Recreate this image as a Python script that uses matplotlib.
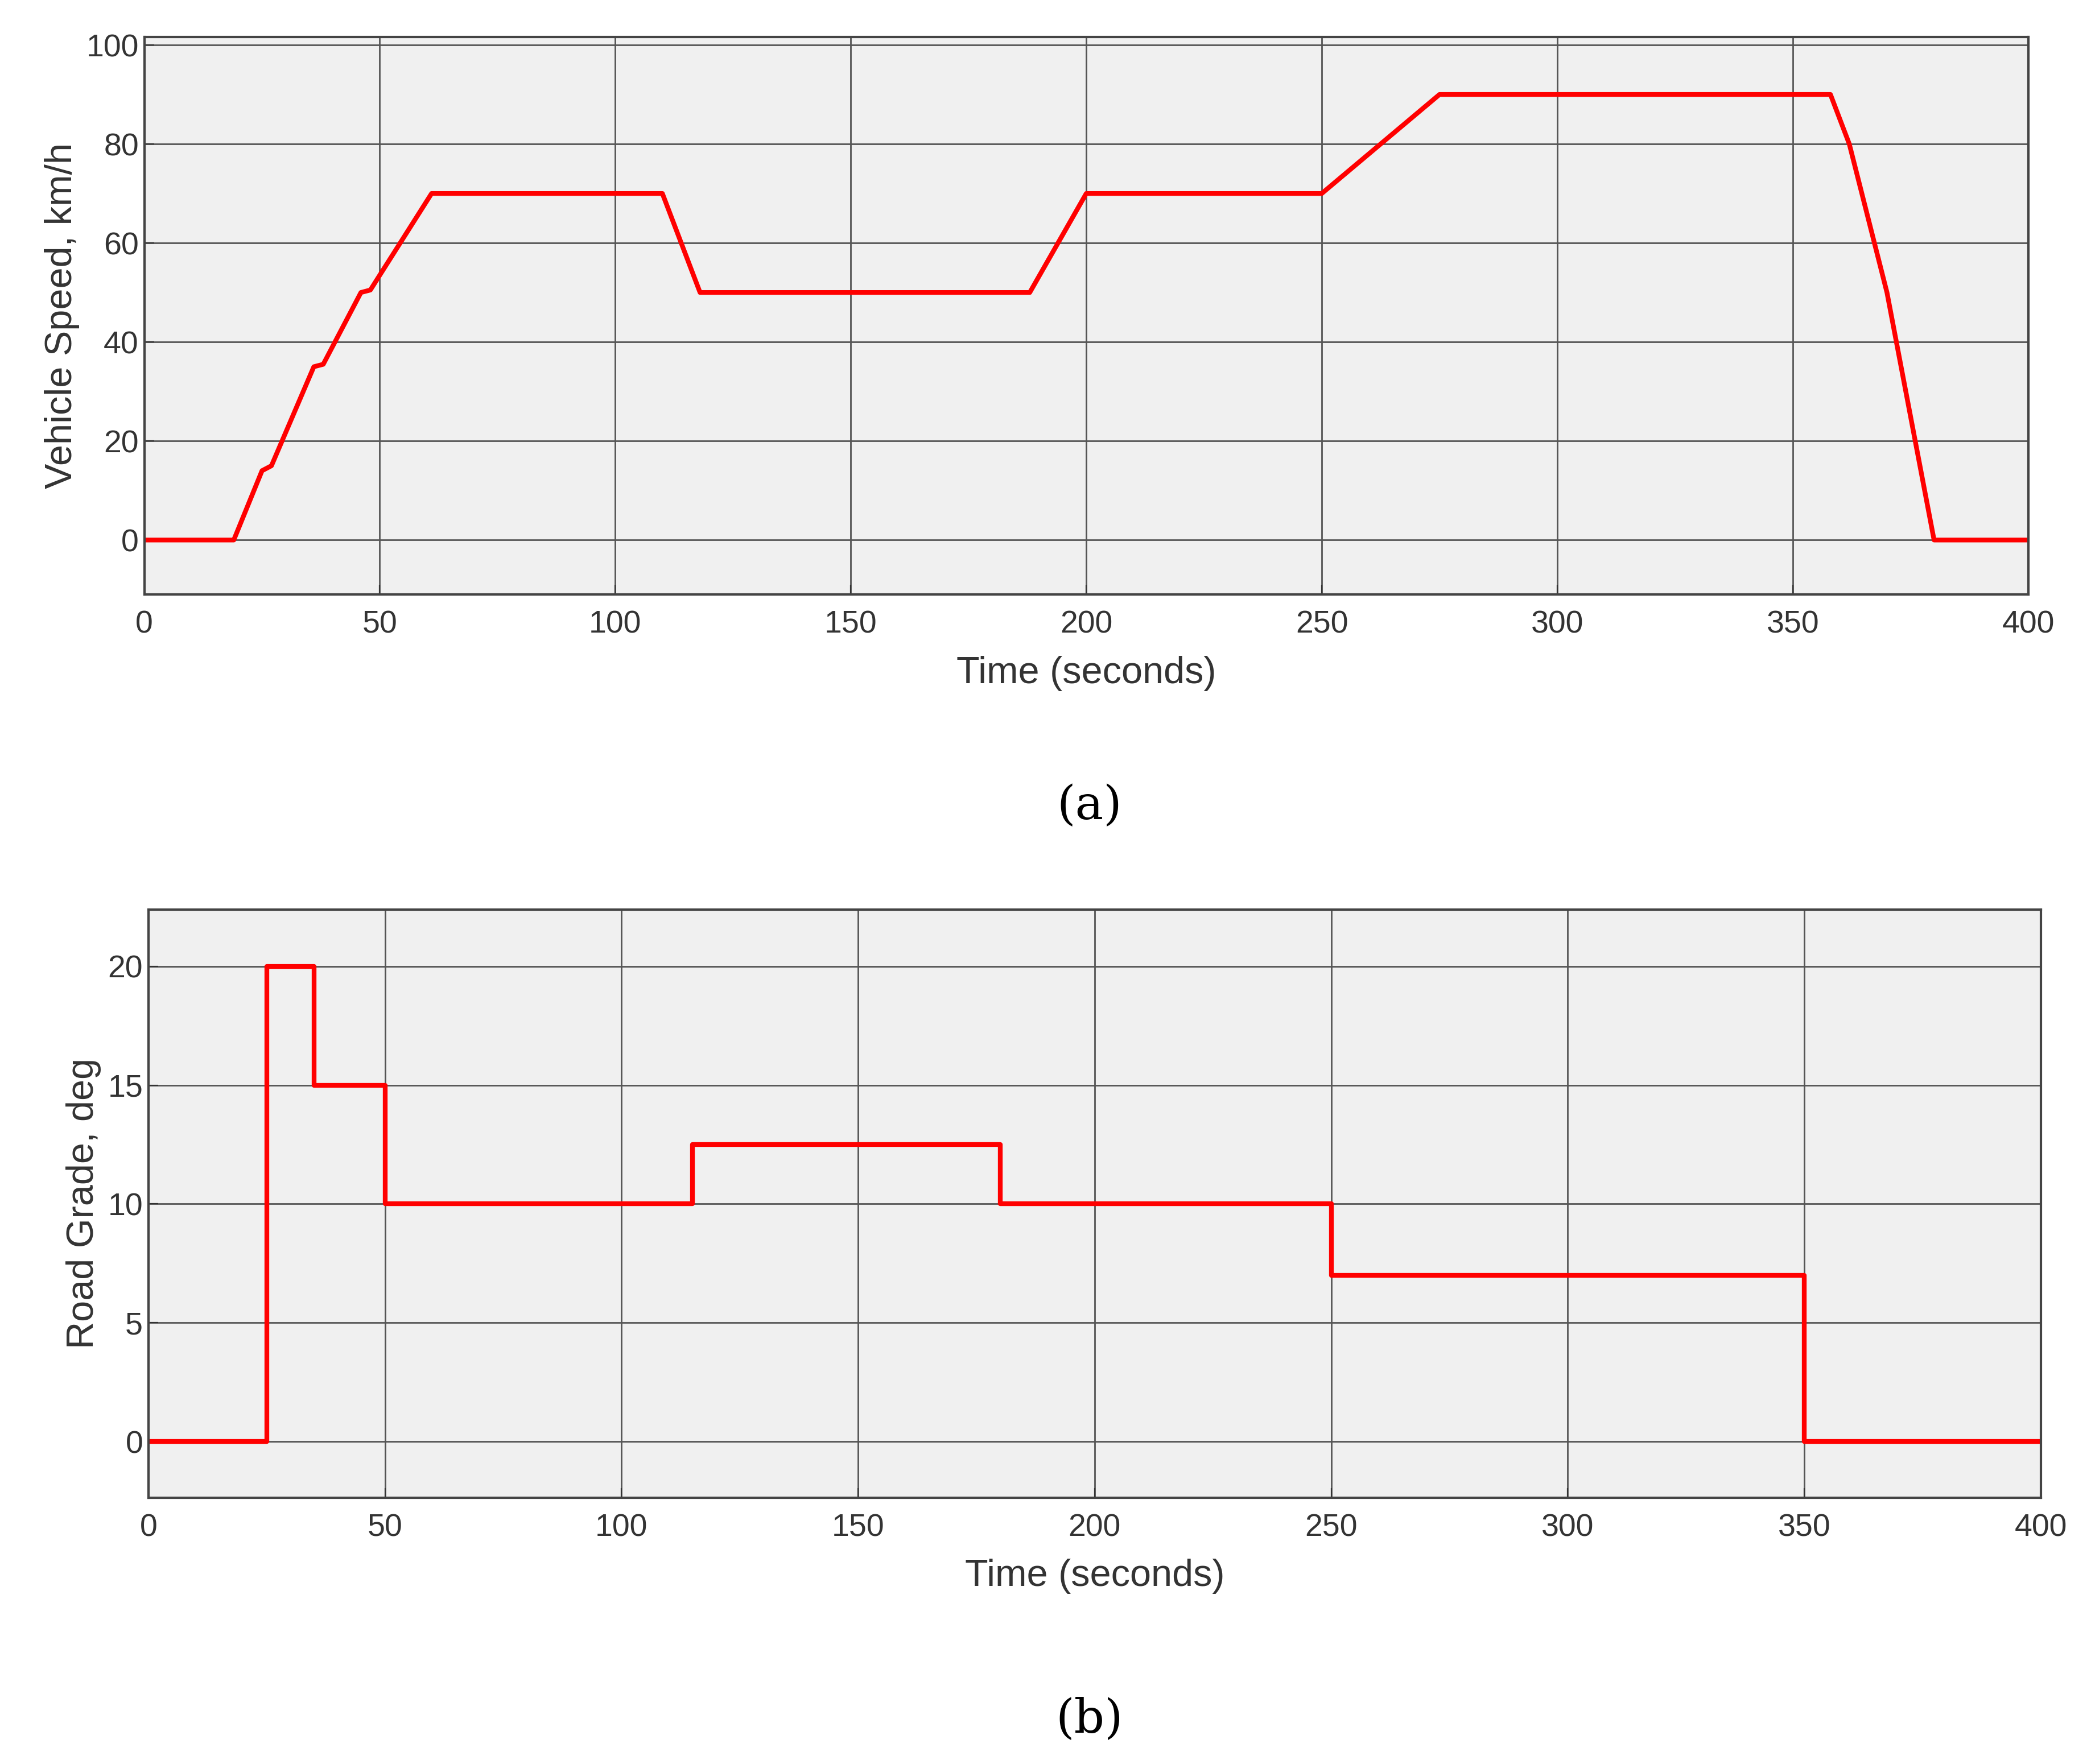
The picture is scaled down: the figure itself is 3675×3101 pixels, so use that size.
import numpy as np
import matplotlib.pyplot as plt

plt.rcParams['font.family'] = ['Liberation Sans', 'DejaVu Sans']

# vehicle speed profile (km/h)
speed_t = [0, 19, 25, 27, 36, 38, 46, 48, 61, 110, 118, 188, 200, 250, 275, 358, 362, 366, 370, 380, 400]
speed_v = [0, 0, 14, 15, 35, 35.5, 50, 50.5, 70, 70, 50, 50, 70, 70, 90, 90, 80, 65, 50, 0, 0]

# road grade profile (deg)
grade_t = [0, 25, 35, 50, 115, 180, 250, 350, 400]
grade_v = [0, 20, 15, 10, 12.5, 10, 7, 0, 0]

fig = plt.figure(figsize=(18.375, 15.505), dpi=200)

ax1 = fig.add_axes([0.069, 0.663, 0.901, 0.316])
ax2 = fig.add_axes([0.071, 0.151, 0.905, 0.3335])

for ax in (ax1, ax2):
    ax.set_facecolor('#f0f0f0')
    ax.grid(True, color='#555555', linewidth=1.0)
    ax.set_axisbelow(True)
    ax.set_xlim(0, 400)
    ax.set_xticks(np.arange(0, 401, 50))
    ax.tick_params(labelsize=20, colors='#333333', direction='in', length=6)
    ax.tick_params(axis='x', pad=10)
    for s in ax.spines.values():
        s.set_color('#444444')
        s.set_linewidth(1.5)
    ax.set_xlabel('Time (seconds)', fontsize=24, color='#333333', labelpad=10)

ax1.plot(speed_t, speed_v, color='red', linewidth=3)
ax1.set_ylim(-11, 101.6)
ax1.set_yticks(np.arange(0, 101, 20))
ax1.set_ylabel('Vehicle Speed, km/h', fontsize=24, color='#333333')

ax2.plot(grade_t, grade_v, color='red', linewidth=3, drawstyle='steps-post')
ax2.set_ylim(-2.36, 22.4)
ax2.set_yticks(np.arange(0, 21, 5))
ax2.set_ylabel('Road Grade, deg', fontsize=24, color='#333333')

fig.text(0.521, 0.543, '(a)', ha='center', va='center', fontsize=30, family='DejaVu Serif')
fig.text(0.521, 0.025, '(b)', ha='center', va='center', fontsize=30, family='DejaVu Serif')

fig.savefig('out.png', dpi=200, facecolor='white')
